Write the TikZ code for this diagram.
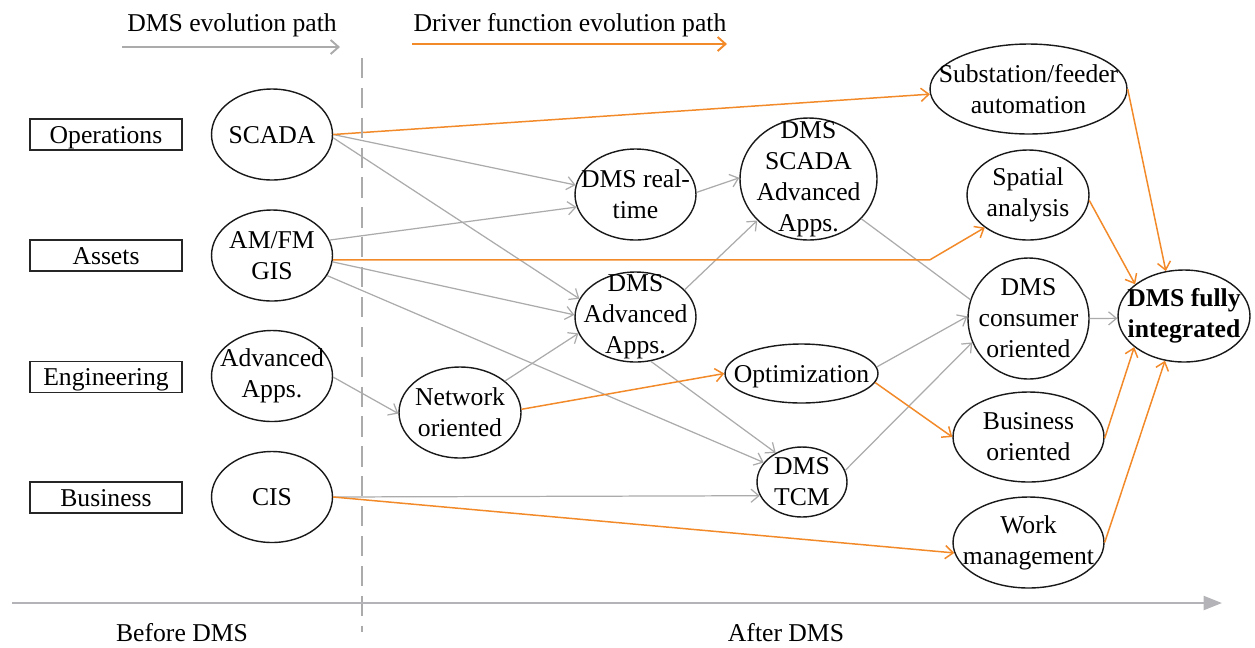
\documentclass[tikz,border=0pt]{standalone}
\usepackage{fontspec}
\setmainfont{Liberation Serif}
\usetikzlibrary{shapes.geometric,arrows.meta}
\definecolor{org}{HTML}{F28A2A}
\definecolor{gry}{HTML}{ABABAB}
\definecolor{axc}{HTML}{B4B4B8}
\begin{document}
\begin{tikzpicture}[x=0.02cm,y=-0.02cm,
 font=\fontsize{14.6}{17.6}\selectfont,
 ell/.style={ellipse,draw=black!90,line width=0.8pt,inner sep=0pt},
 lab/.style={align=center,inner sep=0pt},
 lab1/.style={lab,text height=9.7pt,text depth=0pt},
 catbox/.style={draw=black!85,line width=0.8pt,minimum width=3.04cm,minimum height=0.62cm,inner sep=0pt,text height=9.7pt,text depth=0pt},
 garr/.style={draw=gry,line width=0.7pt,-{Straight Barb[length=4.5pt,width=7.5pt]}},
 gline/.style={draw=gry,line width=0.7pt},
 oarr/.style={draw=org,line width=0.85pt,-{Straight Barb[length=4.5pt,width=7.5pt]}},
]
\useasboundingbox (0,0) rectangle (1255,647);

% headers
\node[lab,anchor=base] (h1) at (232,31) {DMS evolution path};
\node[lab,anchor=base] (h2) at (570,31) {Driver function evolution path};
\coordinate (h1a) at (122,47); \coordinate (h1b) at (340,47);
\coordinate (h2a) at (412,44); \coordinate (h2b) at (727,44);
\draw[gry,line width=1.1pt,-{Straight Barb[length=4.5pt,width=8pt]}] (h1a) -- (h1b);
\draw[org,line width=1.1pt,-{Straight Barb[length=4.5pt,width=8pt]}] (h2a) -- (h2b);

% category boxes
\node[catbox] (ops) at (106,134.5) {Operations};
\node[catbox] (ass) at (106,255.5) {Assets};
\node[catbox] (eng) at (106,377) {Engineering};
\node[catbox] (bsn) at (106,497.5) {Business};

% left column
\node[ell,minimum width=2.42cm,minimum height=1.82cm,label={[lab1]center:SCADA}] (scada) at (272,134.5) {};
\node[ell,minimum width=2.42cm,minimum height=1.82cm,label={[lab]center:{AM/FM\\GIS}}] (amfm) at (272,255.5) {};
\node[ell,minimum width=2.42cm,minimum height=1.82cm,label={[lab]center:{Advanced\\Apps.}}] (adv) at (272,376) {};
\node[ell,minimum width=2.42cm,minimum height=1.82cm,label={[lab1]center:CIS}] (cis) at (272,497) {};

% middle
\node[ell,minimum width=2.44cm,minimum height=1.82cm,label={[lab]center:{Network\\oriented}}] (net) at (460,412.5) {};
\node[ell,minimum width=2.42cm,minimum height=1.82cm,label={[lab]center:{DMS real-\\time}}] (rt) at (635.5,194.5) {};
\node[ell,minimum width=2.42cm,minimum height=1.80cm,label={[lab]center:{DMS\\Advanced\\Apps.}}] (dadv) at (635.5,317) {};
\node[ell,minimum width=2.74cm,minimum height=2.44cm,label={[lab]center:{DMS\\SCADA\\Advanced\\Apps.}}] (sadv) at (808.5,179) {};
\node[ell,minimum width=3.06cm,minimum height=1.18cm,label={[lab1]center:Optimization}] (opt) at (801.5,373.5) {};
\node[ell,minimum width=1.80cm,minimum height=1.40cm,label={[lab]center:{DMS\\TCM}}] (tcm) at (802,482) {};

% right column
\node[ell,minimum width=3.94cm,minimum height=1.80cm,label={[lab]center:{Substation/feeder\\automation}}] (sub) at (1028.5,89) {};
\node[ell,minimum width=2.44cm,minimum height=1.80cm,label={[lab]center:{Spatial\\analysis}}] (spa) at (1028,195) {};
\node[ell,minimum width=2.42cm,minimum height=2.42cm,label={[lab]center:{DMS\\consumer\\oriented}}] (cons) at (1028.5,318.5) {};
\node[ell,minimum width=3.02cm,minimum height=1.80cm,label={[lab]center:{Business\\oriented}}] (bus) at (1028.5,437) {};
\node[ell,minimum width=3.02cm,minimum height=1.82cm,label={[lab]center:{Work\\management}}] (work) at (1028.5,542.5) {};
\node[ell,minimum width=2.64cm,minimum height=1.84cm,label={[lab,font=\fontsize{14.6}{17.6}\selectfont\bfseries]center:{DMS fully\\integrated}}] (full) at (1184,316) {};

% gray connectors
\draw[garr] (scada.east) -- (rt.171);
\draw[garr] (scada.-3) -- (dadv.162);
\draw[garr] (amfm.15) -- (rt.192);
\draw[garr] (amfm.-6) -- (dadv.178);
\draw[garr] (amfm.-20) -- (tcm.153);
\draw[garr] (adv.-1) -- (net.181);
\draw[garr] (net.35) -- (dadv.196);
\draw[garr] (rt.2) -- (sadv.179);
\draw[garr] (dadv.29) -- (sadv.219);
\draw[garr] (dadv.-71) -- (tcm.132);
\draw[garr] (cis.east) -- (tcm.198);
\draw[gline] (sadv.-37) -- (cons.162);
\draw[garr] (opt.5) -- (cons.178);
\draw[garr] (tcm.15) -- (cons.203);
\draw[garr] (cons.east) -- (full.182);

% orange connectors
\coordinate (bend) at (930,260);
\draw[oarr] (scada.east) -- (sub.183);
\draw[oarr] (amfm.-4) -- (amfm.-4 -| bend) -- (spa.217);
\draw[oarr] (net.3) -- (opt.west);
\draw[oarr] (opt.-7) -- (bus.west);
\draw[oarr] (cis.east) -- (work.188);
\draw[oarr] (sub.east) -- (full.112);
\draw[oarr] (spa.-5) -- (full.147);
\draw[oarr] (bus.-1) -- (full.212);
\draw[oarr] (work.east) -- (full.247);

% divider and time axis
\coordinate (d0) at (362,58); \coordinate (d1) at (362,632);
\draw[gry,line width=1.6pt,dash pattern=on 11.5pt off 5.5pt] (d0) -- (d1);
\coordinate (ax0) at (12,603); \coordinate (ax1) at (1222,603);
\draw[axc,line width=1.2pt,-{Triangle[length=10.5pt,width=8pt]}] (ax0) -- (ax1);
\node[lab,anchor=base] (bef) at (182,641) {Before DMS};
\node[lab,anchor=base] (aft) at (786,641) {After DMS};
\end{tikzpicture}
\end{document}
